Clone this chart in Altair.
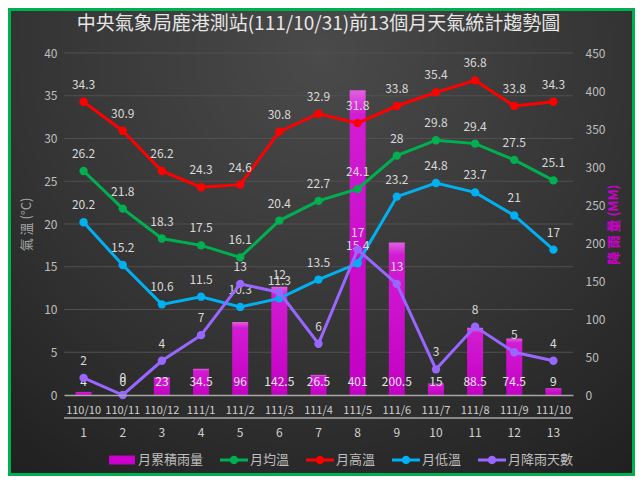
import altair as alt
import pandas as pd

# ---------------- data ----------------
months = ["110/10", "110/11", "110/12", "111/1", "111/2", "111/3", "111/4",
          "111/5", "111/6", "111/7", "111/8", "111/9", "111/10"]
seq = list(range(1, 14))
rain_mm = [4, 0, 23, 34.5, 96, 142.5, 26.5, 401, 200.5, 15, 88.5, 74.5, 9]
temp_avg = [26.2, 21.8, 18.3, 17.5, 16.1, 20.4, 22.7, 24.1, 28, 29.8, 29.4, 27.5, 25.1]
temp_high = [34.3, 30.9, 26.2, 24.3, 24.6, 30.8, 32.9, 31.8, 33.8, 35.4, 36.8, 33.8, 34.3]
temp_low = [20.2, 15.2, 10.6, 11.5, 10.3, 11.3, 13.5, 15.4, 23.2, 24.8, 23.7, 21, 17]
rain_days = [2, 0, 4, 7, 13, 12, 6, 17, 13, 3, 8, 5, 4]

temp_axis_values = [0, 5, 10, 15, 20, 25, 30, 35, 40]
grid_values = [5, 10, 15, 20, 25, 30, 35, 40]
rain_axis_values = [0, 50, 100, 150, 200, 250, 300, 350, 400, 450]

series_names = ["月累積雨量", "月均溫", "月高溫", "月低溫", "月降雨天數"]
series_colors = ["#cc00cc", "#00b050", "#ff0000", "#00b0f0", "#9966ff"]

TITLE = "中央氣象局鹿港測站(111/10/31)前13個月天氣統計趨勢圖"
FONT = "Noto Sans CJK TC"

df = pd.DataFrame({
    "month": months, "seq": seq, "rain": rain_mm, "avg": temp_avg,
    "high": temp_high, "low": temp_low, "days": rain_days,
})
grid_df = pd.DataFrame({"t": grid_values})
one = pd.DataFrame({"a": [0]})
legend_df = pd.DataFrame({"series": series_names})

W, H = 509, 342

X = alt.X("month:N", sort=months,
          scale=alt.Scale(paddingInner=0, paddingOuter=0),
          axis=alt.Axis(title=None, labelAngle=0, labelColor="#d0d0d0", labelFontSize=11,
                        labelPadding=9, ticks=False, grid=False, domainColor="#a6a6a6",
                        domainWidth=1.5, zindex=1, labelFont=FONT))

tscale = alt.Scale(domain=[0, 40], nice=False, zero=True)
rscale = alt.Scale(domain=[0, 450], nice=False, zero=True)

# background panel with gradient and green border
bg_fill = {
    "gradient": "radial", "x1": 0.5, "y1": 0.2, "r1": 0, "x2": 0.5, "y2": 0.2, "r2": 0.9,
    "stops": [{"offset": 0, "color": "#4a4a4a"},
              {"offset": 0.55, "color": "#333333"},
              {"offset": 1, "color": "#1c1c1c"}],
}
bg = alt.Chart(one).mark_rect(fill=bg_fill, stroke="#00b050", strokeWidth=3).encode(
    x=alt.value(-54.5), x2=alt.value(W + 60.5), y=alt.value(-43.5), y2=alt.value(H + 79.5)
)

grid = alt.Chart(grid_df).mark_rule(color="#505050", strokeWidth=1).encode(
    y=alt.Y("t:Q", scale=tscale,
            axis=alt.Axis(orient="left", values=temp_axis_values, title="氣 溫 (°C)",
                          grid=False, ticks=False, domain=False, labelColor="#bfbfbf",
                          labelFontSize=12, labelPadding=7, titleColor="#a6a6a6",
                          titleFontSize=13, titleFontWeight="normal", titlePadding=10,
                          zindex=1, labelFont=FONT, titleFont=FONT))
)

bar_fill = {
    "gradient": "linear", "x1": 0, "y1": 0, "x2": 0, "y2": 1,
    "stops": [{"offset": 0, "color": "#e060e0"},
              {"offset": 0.08, "color": "#d21cd2"},
              {"offset": 1, "color": "#c400c4"}],
}
bars = alt.Chart(df).mark_bar(size=16, fill=bar_fill).encode(
    x=X,
    y=alt.Y("rain:Q", scale=rscale,
            axis=alt.Axis(orient="right", values=rain_axis_values, title="降 雨 量 (MM)",
                          titleAngle=270, titleBaseline="top", grid=False, ticks=False,
                          domain=False, labelColor="#bfbfbf", labelFontSize=12,
                          labelPadding=12, titleColor="#cc00cc", titleFontSize=13,
                          titleFontWeight="bold", titlePadding=3, zindex=1,
                          labelFont=FONT, titleFont=FONT))
)
bar_text = alt.Chart(df).mark_text(color="#e6e6e6", fontSize=12, baseline="middle").encode(
    x=X, y=alt.value(329), text="rain:Q"
)

layers = [bg, grid, bars, bar_text]

line_specs = [("high", "#ff0000"), ("avg", "#00b050"), ("low", "#00b0f0"), ("days", "#9966ff")]
for field, color in line_specs:
    base = alt.Chart(df).encode(x=X, y=alt.Y(f"{field}:Q", scale=tscale, axis=None))
    layers.append(base.mark_line(color=color, strokeWidth=3))
    layers.append(base.mark_circle(color=color, size=70, opacity=1))
    layers.append(base.mark_text(color="#d9d9d9", fontSize=12, dy=-17, baseline="middle")
                  .encode(text=f"{field}:Q"))

sep = alt.Chart(one).mark_rule(color="#a6a6a6", strokeWidth=1.5).encode(
    x=alt.value(0), x2=alt.value(W), y=alt.value(365)
)
seq_text = alt.Chart(df).mark_text(color="#d0d0d0", fontSize=12, baseline="middle").encode(
    x=X, y=alt.value(380), text="seq:Q"
)

bar_sym = "M-0.93,-0.32H0.93V0.32H-0.93Z"
line_sym = ("M-1,-0.11H1V0.11H-1Z M0.3,0 A0.3,0.3 0 1,1 -0.3,0 A0.3,0.3 0 1,1 0.3,0 Z")
shape_range = [bar_sym, line_sym, line_sym, line_sym, line_sym]

leg = alt.Legend(title=None, orient="none", legendX=44, legendY=393, direction="horizontal",
                 symbolSize=784, symbolOpacity=1, symbolStrokeWidth=0, labelColor="#bfbfbf",
                 labelFontSize=13, labelFont=FONT, columnPadding=16, labelOffset=2)
legend_layer = alt.Chart(legend_df).mark_point(filled=True, opacity=0, size=10).encode(
    x=alt.value(0), y=alt.value(0),
    color=alt.Color("series:N", scale=alt.Scale(domain=series_names, range=series_colors),
                    legend=leg),
    shape=alt.Shape("series:N", scale=alt.Scale(domain=series_names, range=shape_range),
                    legend=leg),
)

layers += [sep, seq_text, legend_layer]

chart = alt.layer(*layers).resolve_scale(y="independent").properties(
    width=W, height=H,
    autosize=alt.AutoSizeParams(type="none"),
    padding={"left": 56, "top": 45, "right": 62, "bottom": 81},
    title=alt.Title(TITLE, fontSize=19, color="#e6e6e6", anchor="middle", frame="group",
                    offset=0, dy=26, font=FONT, fontWeight="normal"),
).configure(background="#ffffff", font=FONT).configure_view(stroke=None)

chart.save("out.html", embed_options={"renderer": "svg", "actions": False})
